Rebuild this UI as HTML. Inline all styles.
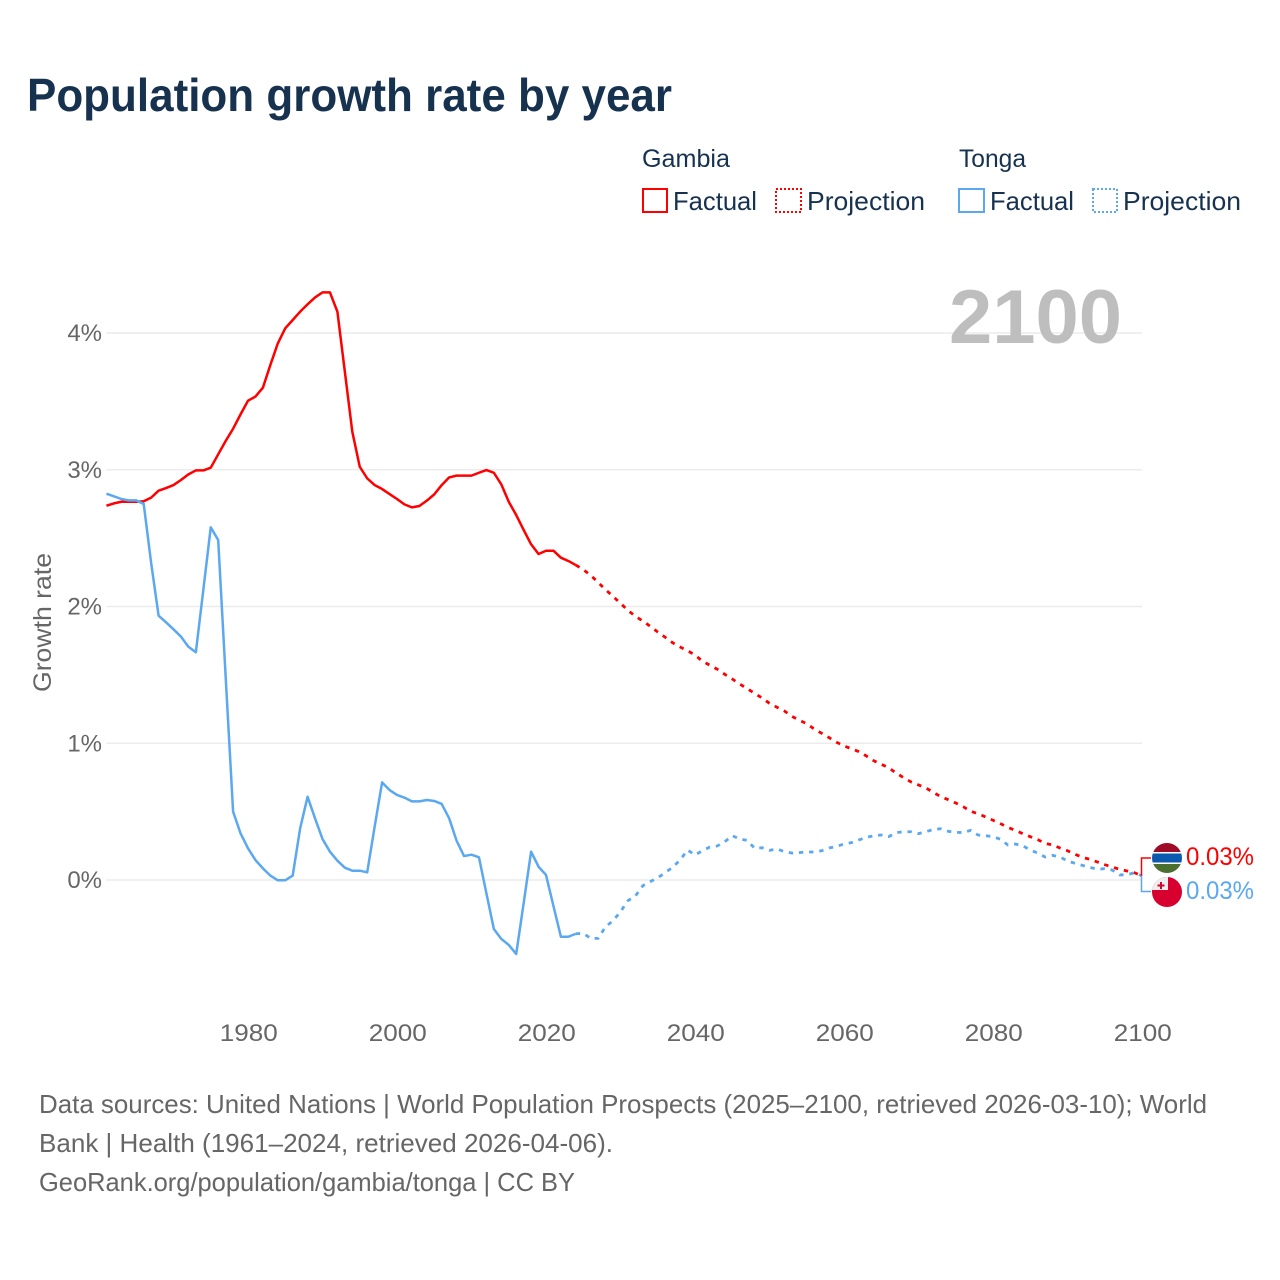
<!DOCTYPE html>
<html lang="en">
<head>
<meta charset="utf-8">
<title>Population growth rate by year</title>
<style>
html,body{margin:0;padding:0;background:#fff;width:1280px;height:1280px;overflow:hidden}
svg{display:block}
text{font-family:"Liberation Sans",sans-serif}
</style>
</head>
<body>
<svg id="chart" xmlns="http://www.w3.org/2000/svg" width="1280" height="1280" viewBox="0 0 1280 1280">
  <rect x="0" y="0" width="1280" height="1280" fill="#fff"/>
  <text x="27" y="111" font-size="46" font-weight="700" fill="#17324f" textLength="645" lengthAdjust="spacingAndGlyphs">Population growth rate by year</text>

  <g>
    <text x="642" y="167" font-size="25" fill="#17324f" textLength="88" lengthAdjust="spacingAndGlyphs">Gambia</text>
    <text x="959" y="167" font-size="25" fill="#17324f" textLength="67" lengthAdjust="spacingAndGlyphs">Tonga</text>
    <rect x="643" y="189" width="24" height="23" fill="none" stroke="#ff0000" stroke-width="2"/>
    <text x="673" y="210" font-size="26" fill="#17324f" textLength="84" lengthAdjust="spacingAndGlyphs">Factual</text>
    <rect x="776" y="189" width="25" height="23" fill="none" stroke="#ff0000" stroke-width="2" stroke-dasharray="2 2"/>
    <text x="807" y="210" font-size="26" fill="#17324f" textLength="118" lengthAdjust="spacingAndGlyphs">Projection</text>
    <rect x="959" y="189" width="25" height="23" fill="none" stroke="#5ba8f0" stroke-width="2"/>
    <text x="990" y="210" font-size="26" fill="#17324f" textLength="84" lengthAdjust="spacingAndGlyphs">Factual</text>
    <rect x="1093" y="189" width="24" height="23" fill="none" stroke="#5ba8f0" stroke-width="2" stroke-dasharray="2 2"/>
    <text x="1123" y="210" font-size="26" fill="#17324f" textLength="118" lengthAdjust="spacingAndGlyphs">Projection</text>
  </g>

  <g id="grid"></g>
  <g id="yticks"></g>
  <g id="xticks"></g>
  <text transform="translate(51,692) rotate(-90)" font-size="25" fill="#666" textLength="139" lengthAdjust="spacingAndGlyphs">Growth rate</text>
  <text x="949" y="343" font-size="76" font-weight="700" fill="#bebebe" textLength="173" lengthAdjust="spacingAndGlyphs">2100</text>
  <g id="series"></g>

  <g>
    <path id="gambiaConnector" fill="none" stroke="#ff0000" stroke-width="1.5"/>
    <path id="tongaConnector" fill="none" stroke="#5ba8f0" stroke-width="1.5"/>
    <defs>
      <clipPath id="clipGambia"><circle cx="1167" cy="858" r="15"/></clipPath>
      <clipPath id="clipTonga"><circle cx="1167" cy="892" r="15"/></clipPath>
    </defs>
    <g clip-path="url(#clipGambia)">
      <rect x="1152" y="843" width="30" height="30" fill="#fff"/>
      <rect x="1152" y="843" width="30" height="9" fill="#9e0b26"/>
      <rect x="1152" y="853.5" width="30" height="9" fill="#0c5ab0"/>
      <rect x="1152" y="864" width="30" height="9" fill="#4a6f2e"/>
    </g>
    <g clip-path="url(#clipTonga)">
      <rect x="1152" y="877" width="30" height="30" fill="#d7002e"/>
      <rect x="1152" y="877" width="16" height="13" fill="#eeeeee"/>
      <rect x="1160" y="882" width="2" height="7" fill="#d7002e"/>
      <rect x="1157.5" y="884.5" width="7" height="2" fill="#d7002e"/>
    </g>
    <text x="1186" y="865" font-size="25" fill="#ff0000" textLength="68" lengthAdjust="spacingAndGlyphs">0.03%</text>
    <text x="1186" y="899" font-size="25" fill="#5ba8f0" textLength="68" lengthAdjust="spacingAndGlyphs">0.03%</text>
  </g>

  <g>
    <text x="39" y="1113" font-size="26" fill="#666" textLength="1168" lengthAdjust="spacingAndGlyphs">Data sources: United Nations | World Population Prospects (2025–2100, retrieved 2026-03-10); World</text>
    <text x="39" y="1152" font-size="26" fill="#666" textLength="574" lengthAdjust="spacingAndGlyphs">Bank | Health (1961–2024, retrieved 2026-04-06).</text>
    <text x="39" y="1191" font-size="26" fill="#666" textLength="536" lengthAdjust="spacingAndGlyphs">GeoRank.org/population/gambia/tonga | CC BY</text>
  </g>
</svg>
<script>
const factualYears = [1961,1962,1963,1964,1965,1966,1967,1968,1969,1970,1971,1972,1973,1974,1975,1976,1977,1978,1979,1980,1981,1982,1983,1984,1985,1986,1987,1988,1989,1990,1991,1992,1993,1994,1995,1996,1997,1998,1999,2000,2001,2002,2003,2004,2005,2006,2007,2008,2009,2010,2011,2012,2013,2014,2015,2016,2017,2018,2019,2020,2021,2022,2023,2024];
const projectionYears = [2024,2025,2026,2027,2028,2029,2030,2031,2032,2033,2034,2035,2036,2037,2038,2039,2040,2041,2042,2043,2044,2045,2046,2047,2048,2049,2050,2051,2052,2053,2054,2055,2056,2057,2058,2059,2060,2061,2062,2063,2064,2065,2066,2067,2068,2069,2070,2071,2072,2073,2074,2075,2076,2077,2078,2079,2080,2081,2082,2083,2084,2085,2086,2087,2088,2089,2090,2091,2092,2093,2094,2095,2096,2097,2098,2099,2100];
const gambiaFactual = [2.737,2.754,2.766,2.766,2.766,2.77,2.796,2.847,2.866,2.888,2.925,2.966,2.995,2.995,3.015,3.113,3.21,3.3,3.405,3.505,3.535,3.6,3.766,3.924,4.034,4.095,4.156,4.21,4.26,4.297,4.297,4.156,3.717,3.278,3.022,2.937,2.888,2.859,2.822,2.786,2.747,2.725,2.735,2.774,2.82,2.888,2.944,2.957,2.957,2.957,2.978,2.998,2.978,2.893,2.766,2.669,2.56,2.455,2.384,2.408,2.408,2.357,2.333,2.303];
const gambiaProjection = [2.303,2.27,2.228,2.176,2.123,2.074,2.023,1.972,1.928,1.894,1.855,1.813,1.775,1.735,1.704,1.677,1.645,1.6,1.57,1.541,1.504,1.47,1.433,1.4,1.365,1.331,1.292,1.263,1.236,1.197,1.168,1.143,1.104,1.073,1.041,1.007,0.98,0.96,0.938,0.907,0.872,0.846,0.821,0.782,0.748,0.717,0.695,0.673,0.641,0.609,0.587,0.563,0.536,0.502,0.485,0.461,0.437,0.412,0.385,0.363,0.339,0.317,0.295,0.268,0.256,0.234,0.214,0.188,0.166,0.151,0.132,0.112,0.095,0.078,0.066,0.053,0.03];
const tongaFactual = [2.825,2.806,2.786,2.776,2.776,2.75,2.318,1.933,1.884,1.833,1.78,1.706,1.665,2.12,2.579,2.486,1.487,0.5,0.341,0.232,0.146,0.085,0.032,-0.002,-0.002,0.032,0.378,0.609,0.45,0.3,0.207,0.141,0.09,0.068,0.068,0.056,0.39,0.714,0.658,0.622,0.602,0.575,0.575,0.585,0.578,0.556,0.451,0.287,0.175,0.185,0.166,-0.097,-0.358,-0.431,-0.475,-0.541,-0.17,0.207,0.097,0.037,-0.19,-0.415,-0.415,-0.393];
const tongaProjection = [-0.393,-0.39,-0.427,-0.427,-0.341,-0.298,-0.232,-0.151,-0.117,-0.042,-0.012,0.017,0.053,0.093,0.146,0.219,0.183,0.214,0.241,0.249,0.28,0.324,0.3,0.29,0.232,0.236,0.217,0.227,0.207,0.197,0.2,0.205,0.205,0.214,0.234,0.246,0.263,0.273,0.293,0.312,0.324,0.329,0.317,0.346,0.353,0.353,0.339,0.353,0.37,0.375,0.356,0.349,0.346,0.363,0.329,0.324,0.317,0.298,0.256,0.263,0.251,0.219,0.197,0.168,0.18,0.168,0.139,0.122,0.107,0.093,0.078,0.083,0.073,0.037,0.039,0.053,0.03];
const xTickYears = [1980,2000,2020,2040,2060,2080,2100];
const yTickValues = [0,1,2,3,4];

const NS = 'http://www.w3.org/2000/svg';
function xScale(year) { return 1142 + (year - 2100) * 7.45; }
function yScale(value) { return 880 - value * 136.75; }
function linePath(years, values) {
  return values.map(function (v, i) {
    return (i ? 'L' : 'M') + xScale(years[i]).toFixed(2) + ' ' + yScale(v).toFixed(2);
  }).join(' ');
}

const gridGroup = document.getElementById('grid');
const yTickGroup = document.getElementById('yticks');
yTickValues.forEach(function (v) {
  const line = document.createElementNS(NS, 'line');
  
  
  line.setAttribute('x1', xScale(1961));
  line.setAttribute('x2', xScale(2100));
  line.setAttribute('y1', yScale(v));
  line.setAttribute('y2', yScale(v));
  line.setAttribute('stroke', '#ececec');
  line.setAttribute('stroke-width', '1.5');
  gridGroup.appendChild(line);
  const label = document.createElementNS(NS, 'text');
  
  
  label.setAttribute('x', 102);
  label.setAttribute('y', yScale(v) + 8);
  label.setAttribute('text-anchor', 'end');
  label.setAttribute('font-size', '24');
  label.setAttribute('fill', '#666');
  label.textContent = v + '%';
  yTickGroup.appendChild(label);
});

const xTickGroup = document.getElementById('xticks');
xTickYears.forEach(function (year) {
  const label = document.createElementNS(NS, 'text');
  
  
  label.setAttribute('x', xScale(year) + 0.8);
  label.setAttribute('y', 1041);
  label.setAttribute('text-anchor', 'middle');
  label.setAttribute('font-size', '24');
  label.setAttribute('fill', '#666');
  label.setAttribute('textLength', '58');
  label.setAttribute('lengthAdjust', 'spacingAndGlyphs');
  label.textContent = year;
  xTickGroup.appendChild(label);
});

const seriesGroup = document.getElementById('series');
function drawLine(name, years, values, color, dashed) {
  const path = document.createElementNS(NS, 'path');
  
  
  path.setAttribute('d', linePath(years, values));
  path.setAttribute('fill', 'none');
  path.setAttribute('stroke', color);
  path.setAttribute('stroke-linejoin', 'round');
  if (dashed) {
    path.setAttribute('stroke-width', '2.8');
    path.setAttribute('stroke-dasharray', '4.4 5.8');
  } else {
    path.setAttribute('stroke-width', '2.5');
  }
  seriesGroup.appendChild(path);
}
drawLine('gambia-factual-line', factualYears, gambiaFactual, '#ff0000', false);
drawLine('gambia-projection-line', projectionYears, gambiaProjection, '#ff0000', true);
drawLine('tonga-factual-line', factualYears, tongaFactual, '#5ba8f0', false);
drawLine('tonga-projection-line', projectionYears, tongaProjection, '#5ba8f0', true);

const endX = xScale(2100) - 0.5;
document.getElementById('gambiaConnector').setAttribute('d', 'M' + endX + ' ' + yScale(gambiaProjection[gambiaProjection.length - 1]) + ' V858 H1151');
document.getElementById('tongaConnector').setAttribute('d', 'M' + endX + ' ' + yScale(tongaProjection[tongaProjection.length - 1]) + ' V891.5 H1151');
</script>
</body>
</html>
